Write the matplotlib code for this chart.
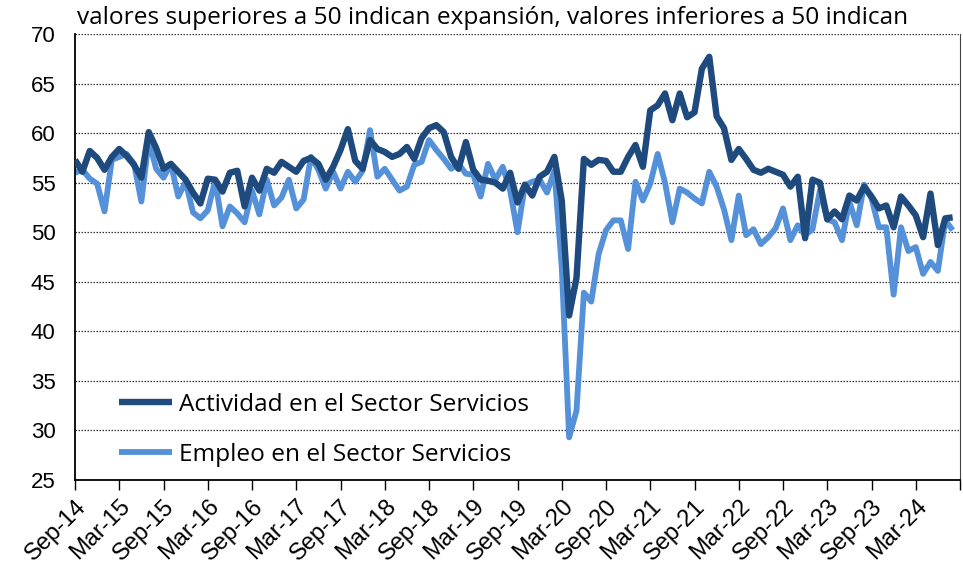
import matplotlib
matplotlib.use("Agg")
import matplotlib.pyplot as plt

plt.rcParams['font.family'] = ['Liberation Sans', 'DejaVu Sans']

# Monthly data, Sep-2014 .. Aug-2024
actividad = [
    57.3, 56.1, 58.2, 57.5, 56.3, 57.6, 58.4, 57.7, 56.8, 55.5,
    60.1, 58.5, 56.4, 56.9, 56.1, 55.3, 54.0, 52.9, 55.4, 55.3,
    54.1, 56.0, 56.2, 52.6, 55.5, 54.2, 56.4, 56.0, 57.1, 56.6,
    56.1, 57.2, 57.5, 56.9, 55.3, 56.6, 58.3, 60.4, 57.2, 56.4,
    59.3, 58.4, 58.1, 57.6, 57.9, 58.6, 57.4, 59.5, 60.5, 60.8,
    60.1, 57.6, 56.4, 59.1, 56.3, 55.3, 55.2, 55.0, 54.4, 56.0,
    53.0, 54.8, 53.7, 55.6, 56.1, 57.6, 53.2, 41.6, 45.4, 57.4,
    56.8, 57.3, 57.2, 56.1, 56.1, 57.6, 58.8, 56.6, 62.3, 62.8,
    64.0, 61.3, 64.0, 61.6, 62.1, 66.5, 67.7, 61.7, 60.5, 57.3,
    58.4, 57.4, 56.3, 56.0, 56.4, 56.1, 55.8, 54.6, 55.6, 49.4,
    55.3, 55.0, 51.3, 52.1, 51.3, 53.7, 53.2, 54.6, 53.6, 52.4,
    52.7, 50.5, 53.6, 52.7, 51.7, 49.5, 53.9, 48.7, 51.4, 51.5,
]
empleo = [
    56.0, 56.3, 55.4, 54.9, 52.1, 57.3, 57.6, 57.9, 56.9, 53.1,
    59.3, 56.4, 55.5, 56.9, 53.6, 55.1, 52.0, 51.4, 52.2, 55.2,
    50.6, 52.6, 51.9, 51.0, 54.2, 51.8, 55.3, 52.7, 53.5, 55.3,
    52.4, 53.3, 57.6, 56.3, 54.4, 56.1, 54.4, 56.1, 55.1, 56.2,
    60.3, 55.6, 56.4, 55.3, 54.2, 54.6, 56.8, 57.1, 59.3, 58.3,
    57.4, 56.4, 56.9, 55.9, 55.8, 53.6, 56.9, 55.3, 56.6, 54.2,
    50.0, 54.7, 55.1, 55.3, 54.0, 56.2, 46.5, 29.3, 32.0, 43.9,
    43.0, 47.8, 50.2, 51.2, 51.2, 48.3, 55.1, 53.2, 54.9, 57.9,
    55.0, 51.0, 54.4, 54.0, 53.4, 52.9, 56.1, 54.6, 52.3, 49.2,
    53.7, 49.7, 50.3, 48.8, 49.5, 50.4, 52.4, 49.2, 50.7, 49.7,
    50.3, 54.2, 51.3, 51.0, 49.2, 53.1, 50.7, 54.8, 53.4, 50.5,
    50.5, 43.7, 50.5, 48.1, 48.5, 45.8, 47.0, 46.1, 51.2, 50.2,
]
tick_labels = ["Sep-14", "Mar-15", "Sep-15", "Mar-16", "Sep-16", "Mar-17",
               "Sep-17", "Mar-18", "Sep-18", "Mar-19", "Sep-19", "Mar-20",
               "Sep-20", "Mar-21", "Sep-21", "Mar-22", "Sep-22", "Mar-23",
               "Sep-23", "Mar-24"]
title_text = "valores superiores a 50 indican expansión, valores inferiores a 50 indican"
series_names = ["Actividad en el Sector Servicios", "Empleo en el Sector Servicios"]

x = list(range(len(actividad)))

fig = plt.figure(figsize=(9.63, 5.8), dpi=100)
ax = fig.add_axes([75/963, 1-480/580, (960-75)/963, (480-34)/580])

ax.plot(x, actividad, color='#1F4A7D', lw=4.6, solid_joinstyle='round',
        solid_capstyle='butt', label=series_names[0], zorder=3)
ax.plot(x, empleo, color='#5591D9', lw=4.2, solid_joinstyle='round',
        solid_capstyle='butt', label=series_names[1], zorder=2)

ax.set_ylim(25, 70)
ax.set_yticks(range(25, 71, 5))
ax.set_xlim(0, 119.6)
ax.set_xticks(list(range(0, 121, 6)))
ax.set_xticklabels(tick_labels + [""], rotation=45, ha='right',
                   rotation_mode='anchor', fontsize=17)
ax.tick_params(axis='x', length=7, width=1, direction='out', pad=4)
ax.tick_params(axis='y', length=0, labelsize=16, pad=14)

ax.grid(axis='y', linestyle=(0, (1.2, 1.2)), color='#333333', lw=0.9, zorder=0)
ax.spines['top'].set_visible(False)
ax.spines['left'].set_linewidth(1.3)
ax.spines['bottom'].set_linewidth(1.3)
ax.spines['right'].set_linewidth(0.8)
ax.spines['right'].set_color('#444444')

leg = ax.legend(loc='lower left', bbox_to_anchor=(0.025, -0.02), frameon=False,
                prop={'family': ['Open Sans', 'DejaVu Sans'], 'size': 17.6},
                handlelength=2.15, handletextpad=0.28, labelspacing=1.08)

fig.text(77/963, 1-18/580, title_text, fontsize=17.6, ha='left', va='center',
         family=['Open Sans', 'DejaVu Sans'])

fig.savefig("out.png", dpi=100)
